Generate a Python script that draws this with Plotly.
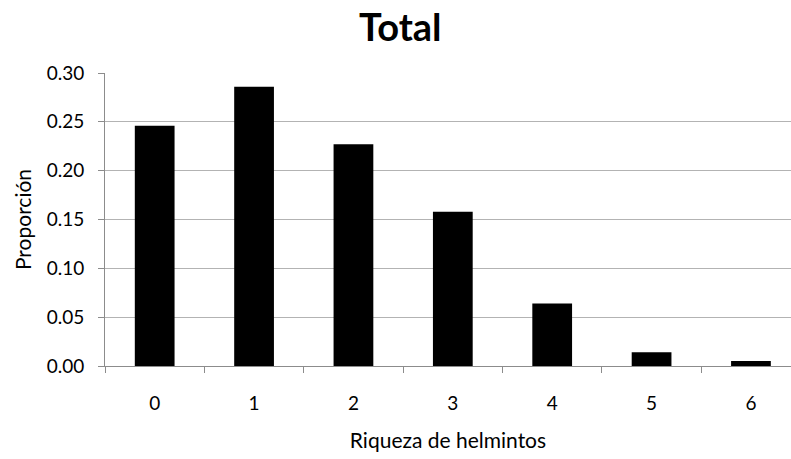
import plotly.graph_objects as go

# Helminth richness (number of species per host) and the proportion of hosts
riqueza = ["0", "1", "2", "3", "4", "5", "6"]
proporcion = [0.246, 0.286, 0.227, 0.158, 0.064, 0.014, 0.005]

y_ticks = [0.00, 0.05, 0.10, 0.15, 0.20, 0.25, 0.30]

FONT = "Lato, 'Open Sans', sans-serif"
AXIS_GREY = "#8c8c8c"
GRID_GREY = "#b3b3b3"

fig = go.Figure(
    go.Bar(
        x=riqueza,
        y=proporcion,
        marker=dict(color="black", line=dict(width=0)),
        width=0.4,
    )
)

fig.update_layout(
    width=791,
    height=459,
    paper_bgcolor="white",
    plot_bgcolor="white",
    margin=dict(l=105, r=0, t=73, b=93),
    showlegend=False,
    title=dict(
        text="<b>Total</b>",
        x=0.506,
        xanchor="center",
        xref="container",
        y=0.94,
        yanchor="middle",
        yref="container",
        font=dict(family=FONT, size=38, color="black"),
    ),
    font=dict(family=FONT, color="black"),
)

fig.update_xaxes(
    type="category",
    range=[-0.5, 6.403],
    showline=True,
    linecolor=AXIS_GREY,
    linewidth=1,
    ticks="outside",
    tickson="boundaries",
    ticklen=6,
    tickcolor=AXIS_GREY,
    ticklabelstandoff=20,
    tickfont=dict(size=19, family=FONT, color="black"),
    showgrid=False,
    title=dict(
        text="Riqueza de helmintos",
        font=dict(size=21, family=FONT, color="black"),
        standoff=20,
    ),
)

fig.update_yaxes(
    range=[0, 0.30],
    tickvals=y_ticks,
    tickformat=".2f",
    showline=True,
    linecolor=AXIS_GREY,
    linewidth=1,
    ticks="outside",
    ticklen=6,
    tickcolor=AXIS_GREY,
    ticklabelstandoff=10,
    tickfont=dict(size=19, family=FONT, color="black"),
    showgrid=True,
    gridcolor=GRID_GREY,
    gridwidth=1,
    zeroline=False,
    title=dict(
        text="Proporción",
        font=dict(size=21, family=FONT, color="black"),
        standoff=9,
    ),
)

fig.write_html("out.html")
